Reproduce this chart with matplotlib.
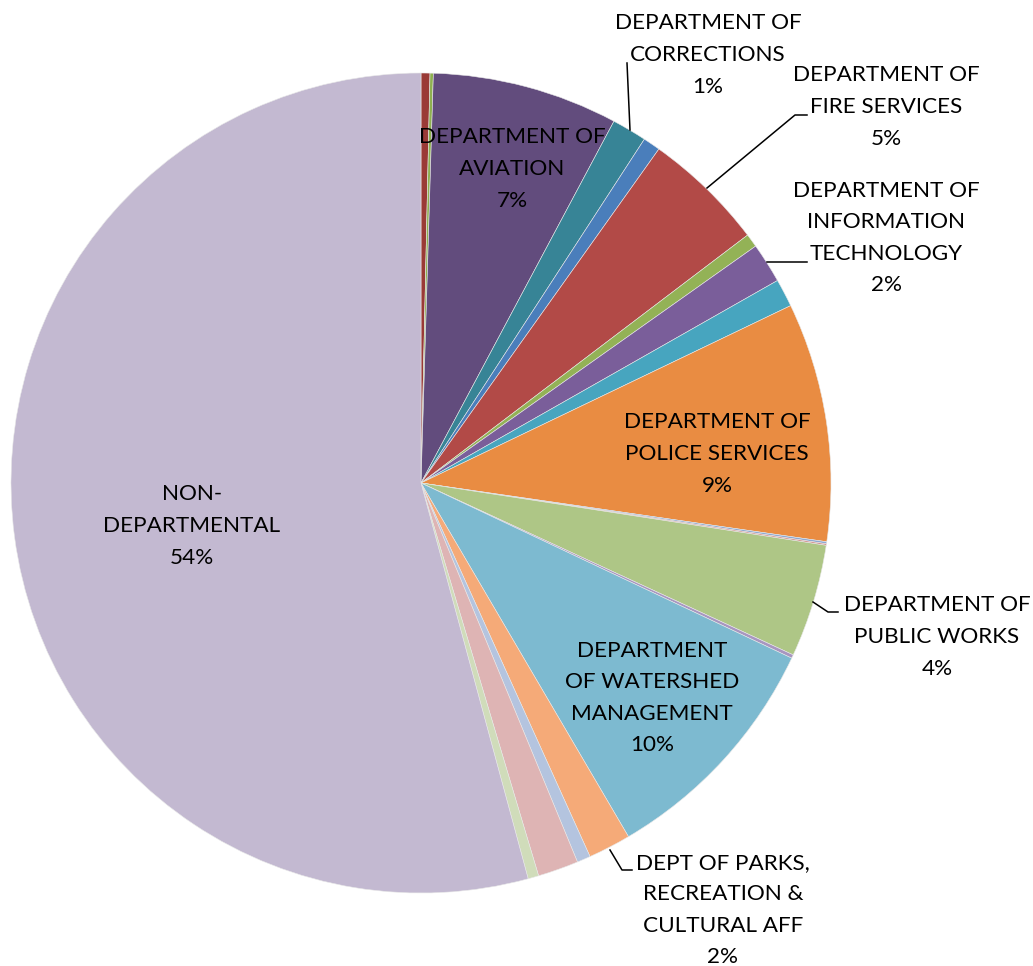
import numpy as np
import matplotlib.pyplot as plt

# Budget share by department, clockwise from 12 o'clock (percent)
departments = [
    "", "", "DEPARTMENT OF\nAVIATION", "DEPARTMENT OF\nCORRECTIONS", "",
    "DEPARTMENT OF\nFIRE SERVICES", "", "DEPARTMENT OF\nINFORMATION\nTECHNOLOGY", "",
    "DEPARTMENT OF\nPOLICE SERVICES", "", "", "DEPARTMENT OF\nPUBLIC WORKS", "",
    "DEPARTMENT\nOF WATERSHED\nMANAGEMENT", "DEPT OF PARKS,\nRECREATION &\nCULTURAL AFF",
    "", "", "", "NON-\nDEPARTMENTAL",
]
shares = [0.35, 0.13, 7.31, 1.37, 0.68, 4.81, 0.53, 1.58, 1.10, 9.40,
          0.08, 0.06, 4.45, 0.14, 9.52, 1.68, 0.53, 1.60, 0.42, 54.15]
colors = ["#9A3A36", "#8EB050", "#624C7D", "#378496", "#4A7EBB", "#B24A47",
          "#93B256", "#7A5E9A", "#47A5BF", "#E98C42", "#8EA9D2", "#D48F8D",
          "#AEC686", "#A896C0", "#7DBAD0", "#F5AA78", "#B4C4DF", "#DEB4B4",
          "#D0DCBA", "#C3B9D1"]

W, H = 1033, 966
cx, cy, R = 421, 483, 410


def px(x, y):
    # pixel position -> data coords (pie radius = 1)
    return (x - cx) / R, (cy - y) / R


fig = plt.figure(figsize=(W / 100, H / 100), dpi=100)
ax = fig.add_axes([0, 0, 1, 1])
ax.pie(shares, colors=colors, startangle=90, counterclock=False, radius=1,
       wedgeprops=dict(linewidth=0.4, edgecolor="#e8e8e8"))
ax.set_xlim(-cx / R, (W - cx) / R)
ax.set_ylim(-(H - cy) / R, cy / R)
ax.set_aspect("equal")
ax.axis("off")

total = sum(shares)
pct = [f"{round(v / total * 100)}%" for v in shares]

# label centres (pixels) and leader lines
label_pos = {
    2: (512, 169), 3: (708, 55), 5: (886, 107), 7: (886, 238),
    9: (717, 454), 12: (937, 637), 14: (652, 698), 15: (723, 910),
    19: (192, 526),
}
leaders = {
    3: [(630, 130), (627, 63)],
    5: [(707, 188), (795, 115), (807, 115)],
    7: [(767, 262), (807, 262)],
    12: [(813, 602), (828, 612), (838, 612)],
    15: [(610, 850), (622, 870), (632, 870)],
}

for i, (x, y) in label_pos.items():
    tx, ty = px(x, y)
    ax.text(tx, ty, departments[i] + "\n" + pct[i], ha="center", va="center",
            fontsize=16.2, family="Lato", linespacing=1.72, color="black")

for i, pts in leaders.items():
    xs, ys = zip(*[px(x, y) for x, y in pts])
    ax.plot(xs, ys, color="black", lw=1.1)

fig.savefig("out.png", dpi=100)
